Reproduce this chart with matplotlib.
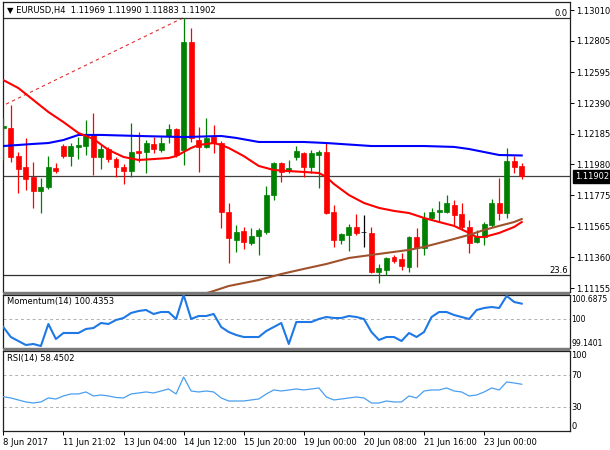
import matplotlib
matplotlib.use('Agg')
import matplotlib.pyplot as plt
import matplotlib.transforms as mtransforms
from matplotlib.patches import Rectangle

# ---------------- data (EURUSD H4 candles, index = bar number) ----------------
opens = [1.12223, 1.12223, 1.12036, 1.11963, 1.11896, 1.11803, 1.11830, 1.11956, 1.12103, 1.12036,
         1.12097, 1.12103, 1.12177, 1.12030, 1.12083, 1.12016, 1.11963, 1.11936, 1.12070, 1.12063,
         1.12117, 1.12077, 1.12170, 1.12217, 1.12077, 1.12797, 1.12143, 1.12097, 1.12163, 1.12123,
         1.11663, 1.11476, 1.11536, 1.11456, 1.11503, 1.11530, 1.11776, 1.11990, 1.11936, 1.12030,
         1.12056, 1.11963, 1.12043, 1.12063, 1.11663, 1.11476, 1.11510, 1.11563, 1.11530, 1.11523,
         1.11263, 1.11276, 1.11363, 1.11349, 1.11296, 1.11496, 1.11423, 1.11623, 1.11663, 1.11663,
         1.11710, 1.11650, 1.11563, 1.11463, 1.11496, 1.11576, 1.11723, 1.11656, 1.12003, 1.11969]
highs = [1.12290, 1.12377, 1.12063, 1.12157, 1.11996, 1.11890, 1.12036, 1.11990, 1.12117, 1.12123,
         1.12163, 1.12277, 1.12323, 1.12110, 1.12097, 1.12030, 1.11983, 1.12257, 1.12197, 1.12143,
         1.12163, 1.12163, 1.12250, 1.12223, 1.12957, 1.12890, 1.12230, 1.12290, 1.12243, 1.12137,
         1.11723, 1.11576, 1.11563, 1.11556, 1.11556, 1.11836, 1.11996, 1.11996, 1.12010, 1.12103,
         1.12063, 1.12077, 1.12077, 1.12123, 1.11710, 1.11523, 1.11583, 1.11650, 1.11643, 1.11563,
         1.11316, 1.11363, 1.11376, 1.11389, 1.11503, 1.11556, 1.11663, 1.11690, 1.11736, 1.11776,
         1.11743, 1.11723, 1.11610, 1.11543, 1.11596, 1.11750, 1.11890, 1.12090, 1.12036, 1.11990]
lows = [1.12010, 1.11996, 1.11790, 1.11810, 1.11690, 1.11656, 1.11816, 1.11923, 1.12023, 1.11970,
        1.12016, 1.12043, 1.11910, 1.11950, 1.11996, 1.11896, 1.11850, 1.11896, 1.11996, 1.11923,
        1.12056, 1.12063, 1.12123, 1.12030, 1.11976, 1.12130, 1.11930, 1.12090, 1.12056, 1.11556,
        1.11323, 1.11396, 1.11416, 1.11443, 1.11376, 1.11516, 1.11743, 1.11863, 1.11923, 1.12010,
        1.11896, 1.11923, 1.11823, 1.11650, 1.11430, 1.11450, 1.11403, 1.11510, 1.11430, 1.11256,
        1.11189, 1.11243, 1.11323, 1.11276, 1.11263, 1.11296, 1.11376, 1.11610, 1.11596, 1.11656,
        1.11576, 1.11543, 1.11389, 1.11456, 1.11443, 1.11563, 1.11610, 1.11623, 1.11923, 1.11883]
closes = [1.12237, 1.12030, 1.11950, 1.11883, 1.11803, 1.11830, 1.11963, 1.11936, 1.12036, 1.12103,
          1.12110, 1.12177, 1.12030, 1.12083, 1.12016, 1.11963, 1.11936, 1.12063, 1.12056, 1.12123,
          1.12083, 1.12123, 1.12217, 1.12043, 1.12797, 1.12157, 1.12097, 1.12157, 1.12123, 1.11663,
          1.11490, 1.11530, 1.11463, 1.11503, 1.11543, 1.11776, 1.11990, 1.11930, 1.11956, 1.12070,
          1.11963, 1.12056, 1.12063, 1.11656, 1.11476, 1.11516, 1.11563, 1.11523, 1.11530, 1.11263,
          1.11289, 1.11356, 1.11336, 1.11303, 1.11496, 1.11423, 1.11623, 1.11663, 1.11676, 1.11723,
          1.11643, 1.11563, 1.11456, 1.11496, 1.11583, 1.11723, 1.11656, 1.12003, 1.11963, 1.11902]

# moving averages (bar index, value)
ma_red_idx = [0, 2, 4, 6, 8, 10, 12, 14, 16, 18, 20, 22, 23, 24, 25, 26, 28, 29, 30, 32, 34, 36, 38,
              40, 42, 43, 44, 46, 48, 50, 52, 54, 56, 58, 60, 62, 63, 64, 66, 67, 68, 69]
ma_red_val = [1.12543, 1.12490, 1.12410, 1.12330, 1.12263, 1.12190, 1.12150, 1.12077, 1.12030, 1.12010,
              1.12016, 1.12023, 1.12036, 1.12063, 1.12090, 1.12110, 1.12123, 1.12110, 1.12090, 1.12036,
              1.11970, 1.11943, 1.11936, 1.11930, 1.11923, 1.11896, 1.11850, 1.11776, 1.11723, 1.11690,
              1.11670, 1.11656, 1.11623, 1.11596, 1.11570, 1.11523, 1.11496, 1.11496, 1.11523, 1.11543,
              1.11563, 1.11596]
ma_blue_idx = [0, 4, 6, 8, 10, 13, 18, 24, 29, 31, 34, 40, 43, 49, 56, 60, 62, 64, 66, 69]
ma_blue_val = [1.12103, 1.12117, 1.12123, 1.12143, 1.12177, 1.12177, 1.12170, 1.12163, 1.12170, 1.12157,
               1.12130, 1.12130, 1.12123, 1.12103, 1.12103, 1.12097, 1.12083, 1.12063, 1.12043, 1.12040]
ma_brown_idx = [26, 28, 30, 34, 37, 40, 43, 46, 50, 54, 56, 58, 60, 62, 64, 66, 68, 69]
ma_brown_val = [1.11105, 1.11136, 1.11169, 1.11209, 1.11249, 1.11283, 1.11316, 1.11356, 1.11383, 1.11410,
                1.11430, 1.11456, 1.11483, 1.11510, 1.11543, 1.11570, 1.11596, 1.11616]

# Fibonacci retracement tool
fib_trend_idx = [-0.44, 24]
fib_trend_val = [1.12363, 1.12960]
fib_levels = [1.12960, 1.11243]
fib_labels = ["0.0", "23.6"]

last_price = 1.11902
price_ticks = [1.13010, 1.12805, 1.12595, 1.12390, 1.12185, 1.11980, 1.11775, 1.11565, 1.11360, 1.11155]

momentum = [99.753, 99.461, 99.344, 99.228, 99.257, 99.198, 99.841, 99.403, 99.578, 99.578,
            99.578, 99.695, 99.724, 99.870, 99.841, 99.958, 100.016, 100.162, 100.220, 100.250,
            100.133, 100.191, 100.191, 99.987, 100.6875, 99.987, 100.074, 100.074, 100.133, 99.753,
            99.607, 99.520, 99.461, 99.461, 99.461, 99.636, 99.753, 99.870, 99.257, 99.899,
            99.899, 99.899, 99.987, 100.045, 100.016, 100.016, 100.074, 100.045, 99.987, 99.607,
            99.374, 99.461, 99.461, 99.344, 99.578, 99.461, 99.607, 100.045, 100.191, 100.191,
            100.104, 100.045, 99.987, 100.250, 100.308, 100.337, 100.308, 100.660, 100.483, 100.4353]
mom_max, mom_min = 100.6875, 99.1401

rsi = [42.9, 41.3, 38.8, 36.3, 35.0, 36.3, 41.3, 40.0, 43.8, 46.3,
       46.3, 48.8, 43.8, 45.0, 43.8, 41.9, 41.3, 46.3, 47.5, 48.8,
       47.5, 50.0, 52.5, 46.3, 67.5, 50.0, 48.8, 50.0, 48.8, 41.3,
       37.5, 37.5, 37.5, 38.8, 40.0, 46.3, 51.3, 50.0, 51.3, 52.5,
       51.3, 52.5, 53.8, 42.5, 38.8, 40.0, 41.3, 42.5, 41.3, 35.0,
       35.0, 37.5, 36.3, 36.3, 43.8, 41.3, 50.0, 51.3, 51.3, 53.8,
       50.0, 48.8, 43.8, 45.0, 48.8, 53.8, 51.3, 61.3, 60.0, 58.4502]

time_tick_idx = [0, 8, 16, 24, 32, 40, 48, 56, 64]
time_tick_labels = ["8 Jun 2017", "11 Jun 21:02", "13 Jun 04:00", "14 Jun 12:00", "15 Jun 20:00",
                    "19 Jun 00:00", "20 Jun 08:00", "21 Jun 16:00", "23 Jun 00:00"]

# ---------------- drawing ----------------
plt.rcParams['font.family'] = ['DejaVu Sans']
FS = 6
W, H = 610, 450
fig = plt.figure(figsize=(W / 100, H / 100), dpi=100)


def rect(x0, y0, x1, y1):
    return [x0 / W, 1 - y1 / H, (x1 - x0) / W, (y1 - y0) / H]


ax1 = fig.add_axes(rect(2.5, 1.7, 569.5, 292))
ax2 = fig.add_axes(rect(2.5, 295, 569.5, 348))
ax3 = fig.add_axes(rect(2.5, 351, 569.5, 431))

# separators between panels
for y0, y1 in [(292, 295), (348, 351)]:
    fig.patches.append(Rectangle((2.5 / W, 1 - y1 / H), 567 / W, (y1 - y0) / H,
                                 transform=fig.transFigure, facecolor='#7a7a7a',
                                 edgecolor='none', zorder=5))

XMIN, XMAX = -0.106, 75.36
GREEN, RED = '#008000', '#ff0000'

for ax in (ax1, ax2, ax3):
    ax.set_xlim(XMIN, XMAX)
    for s in ax.spines.values():
        s.set_color('#202020')
        s.set_linewidth(0.9)
    ax.yaxis.tick_right()
    ax.tick_params(axis='y', direction='out', length=3, width=0.7, labelsize=FS, pad=2,
                   colors='black')

# candles
idx = list(range(len(opens)))
for i in idx:
    o, h, l, c = opens[i], highs[i], lows[i], closes[i]
    col = GREEN if c > o else (RED if c < o else 'black')
    ax1.vlines(i, l, h, color=col, linewidth=0.9, zorder=3)
    ax1.bar(i, abs(c - o) if c != o else 0.000001, bottom=min(o, c), width=0.66,
            color=col, edgecolor=col, linewidth=0.5, zorder=4)

ax1.plot(ma_blue_idx, ma_blue_val, color='#0000ff', linewidth=1.5, zorder=5)
ax1.plot(ma_red_idx, ma_red_val, color='#ff0000', linewidth=1.5, zorder=5)
ax1.plot(ma_brown_idx, ma_brown_val, color='#a0522d', linewidth=1.5, zorder=5)

ax1.plot(fib_trend_idx, fib_trend_val, color='#e03030', linewidth=0.8, linestyle=(0, (3, 3)),
         zorder=2)
for lvl, lab in zip(fib_levels, fib_labels):
    ax1.axhline(lvl, color='#303030', linewidth=0.9, zorder=2)
    ax1.text(XMAX - 0.25, lvl, lab, ha='right', va='bottom', fontsize=FS, zorder=6)

ax1.axhline(last_price, color='#404040', linewidth=0.9, zorder=2)

ax1.set_ylim(1.11129, 1.13066)
ax1.set_yticks(price_ticks)
ax1.set_yticklabels([f"{p:.5f}" for p in price_ticks])
ax1.set_xticks([])

trans1 = mtransforms.blended_transform_factory(ax1.transAxes, ax1.transData)
ax1.text(1.009, last_price, f"{last_price:.5f}", transform=trans1, ha='left', va='center',
         fontsize=FS, color='white', zorder=10, clip_on=False,
         bbox=dict(boxstyle='square,pad=0.25', facecolor='black', edgecolor='black'))

fig.text(7 / W, 1 - 10 / H, "\u25bc EURUSD,H4  1.11969 1.11990 1.11883 1.11902",
         ha='left', va='center', fontsize=FS)

# momentum
ax2.plot(idx, momentum, color='#1e78e6', linewidth=1.5, zorder=3)
ax2.axhline(100, color='#b0b0b0', linewidth=0.7, linestyle=(0, (3, 3)), zorder=1)
ax2.set_ylim(mom_min, mom_max)
ax2.set_yticks([mom_min, 100, mom_max])
ax2.set_yticklabels([f"{mom_min:.4f}", "100", f"{mom_max:.4f}"])
lbls = ax2.get_yticklabels()
lbls[0].set_va('bottom')
lbls[2].set_va('top')
ax2.tick_params(axis='y', length=0, pad=1.5, labelsize=5.5)
ax2.set_xticks([])
ax2.text(0.008, 0.88, f"Momentum(14) {momentum[-1]:.4f}", transform=ax2.transAxes,
         ha='left', va='center', fontsize=FS)

# RSI
ax3.plot(idx, rsi, color='#4a9ff0', linewidth=0.9, zorder=3)
for lvl in (70, 30):
    ax3.axhline(lvl, color='#b0b0b0', linewidth=0.7, linestyle=(0, (3, 3)), zorder=1)
ax3.set_ylim(0, 100)
ax3.set_yticks([0, 30, 70, 100])
ax3.set_yticklabels(["0", "30", "70", "100"])
lbls = ax3.get_yticklabels()
lbls[0].set_va('bottom')
lbls[3].set_va('top')
ax3.tick_params(axis='y', length=0, pad=1.5)
ax3.text(0.008, 0.9, f"RSI(14) {rsi[-1]:.4f}", transform=ax3.transAxes,
         ha='left', va='center', fontsize=FS)

ax3.set_xticks(time_tick_idx)
ax3.set_xticklabels(time_tick_labels)
for t in ax3.get_xticklabels():
    t.set_ha('left')
ax3.tick_params(axis='x', direction='out', length=3, width=0.7, labelsize=FS, pad=2)

fig.savefig('out.png', dpi=100, facecolor='white')
